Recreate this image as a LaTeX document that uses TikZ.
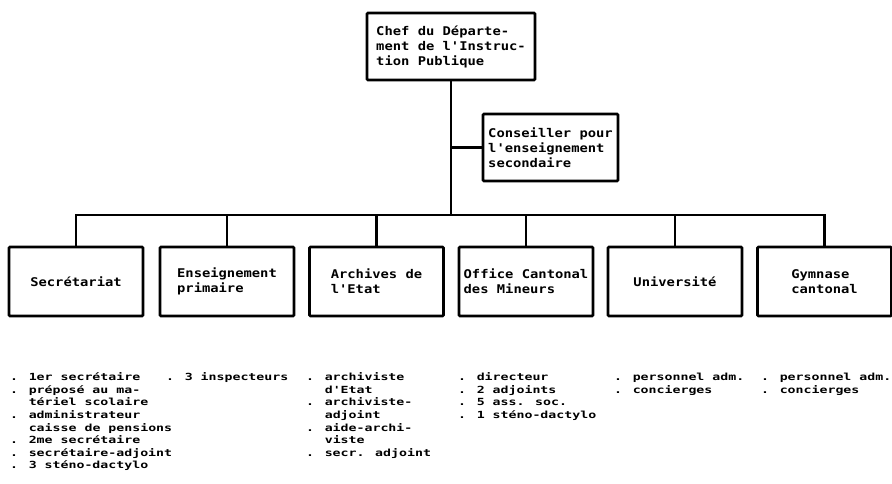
\documentclass[tikz,border=0pt]{standalone}
\usepackage{fontspec}
\newfontfamily\boxfont[FakeStretch=1.15]{DejaVu Sans Mono}
\newfontfamily\listfont[FakeStretch=1.35]{DejaVu Sans Mono}
\newcommand{\firstline}{\rule{0pt}{11pt}}
\newcommand{\indentitem}{\hphantom{. }}
\begin{document}
\lineskiplimit=-20pt
\begin{tikzpicture}[x=1pt,y=-1pt,
  box/.style={draw,line width=2.6pt,rounded corners=1pt,minimum width=134pt,
    minimum height=69pt,inner sep=0pt,align=left,
    font=\boxfont\bfseries\fontsize{12}{15}\selectfont},
  link/.style={line width=2.4pt},
  list/.style={anchor=north west,inner sep=0pt,align=left,
    font=\listfont\bfseries\fontsize{9.8}{12.6}\selectfont}]
\useasboundingbox (0,0) rectangle (892,483);

% head of the department and the adviser
\node[box,minimum width=168pt,minimum height=67pt] (chef) at (451,46.5)
  {Chef du Départe-\\ment de l'Instruc-\\tion Publique};
\node[box,minimum width=135pt,minimum height=67pt] (cons) at (550.5,147.5)
  {Conseiller pour\\l'enseignement\\secondaire};

% services
\node[box] (sec)  at (76,281.5)    {Secrétariat};
\node[box] (prim) at (227,281.5)   {Enseignement\\primaire};
\node[box] (arch) at (376.5,281.5) {Archives de\\l'Etat};
\node[box] (off)  at (526,281.5)   {Office Cantonal\\des Mineurs};
\node[box] (univ) at (675,281.5)   {Université};
\node[box] (gymn) at (824.5,281.5) {Gymnase\\cantonal};

% connectors
\coordinate (bus) at (451,215);
\draw[link] (chef.south) -- (bus);
\draw[link] (cons.west) -- (chef.south |- cons.west);
\draw[link] (sec.north) |- (bus) -| (gymn.north);
\foreach \n in {prim,arch,off,univ}
  \draw[link] (\n.north) -- (\n.north |- bus);

% staff lists
\node[list] (lsec) at (10,369.5) {\firstline. 1er secrétaire\\
  . préposé au ma-\\\indentitem tériel scolaire\\
  . administrateur\\\indentitem caisse de pensions\\
  . 2me secrétaire\\
  . secrétaire-adjoint\\
  . 3 sténo-dactylo};
\node[list] (lprim) at (166,369.5) {\firstline. 3 inspecteurs};
\node[list] (larch) at (306,369.5) {\firstline. archiviste\\\indentitem d'Etat\\
  . archiviste-\\\indentitem adjoint\\
  . aide-archi-\\\indentitem viste\\
  . secr. adjoint};
\node[list] (loff) at (458,369.5) {\firstline. directeur\\
  . 2 adjoints\\
  . 5 ass. soc.\\
  . 1 sténo-dactylo};
\node[list] (luniv) at (614,369.5) {\firstline. personnel adm.\\. concierges};
\node[list] (lgymn) at (761,369.5) {\firstline. personnel adm.\\. concierges};
\end{tikzpicture}
\end{document}
